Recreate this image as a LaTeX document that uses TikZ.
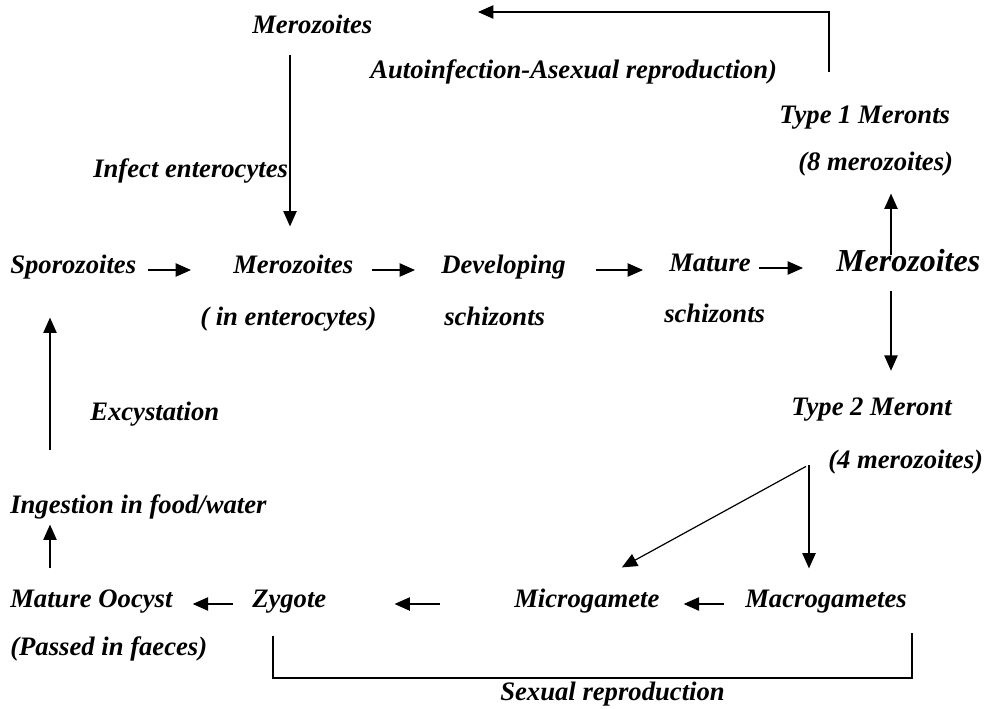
\documentclass[tikz,border=0pt]{standalone}
\usepackage{fontspec}
\setmainfont{Liberation Serif}
\usetikzlibrary{arrows.meta}
\begin{document}
\begin{tikzpicture}[x=0.75pt,y=-0.75pt,
  lbl/.style={anchor=base west,inner sep=0pt,font=\fontsize{20}{24}\selectfont\bfseries\itshape,text height=0.7em,text depth=0.25em},
  biglbl/.style={lbl,font=\fontsize{24}{28}\selectfont\bfseries\itshape},
  arr/.style={line width=0.9pt,-{Triangle[length=11.5pt,width=10pt]}},
  ln/.style={line width=0.9pt}]
\useasboundingbox (0,0) rectangle (996,708);
% labels
\node[lbl] (merTop) at (252,33) {Merozoites};
\node[lbl] (auto) at (370,78) {Autoinfection-Asexual reproduction)};
\node[lbl] (infect) at (93,177) {Infect enterocytes};
\node[lbl] (type1) at (779,123) {Type 1 Meronts};
\node[lbl] (type1b) at (798,170) {(8 merozoites)};
\node[lbl] (spor) at (10,273) {Sporozoites};
\node[lbl] (mer1) at (233,273) {Merozoites};
\node[lbl] (mer1b) at (200,325) {( in enterocytes)};
\node[lbl] (dev) at (441,273) {Developing};
\node[lbl] (devb) at (444,325) {schizonts};
\node[lbl] (mat) at (669,271) {Mature};
\node[lbl] (matb) at (664,322) {schizonts};
\node[biglbl] (merBig) at (836,271) {Merozoites};
\node[lbl] (type2) at (791,415) {Type 2 Meront};
\node[lbl] (type2b) at (828,468) {(4 merozoites)};
\node[lbl] (excyst) at (90,420) {Excystation};
\node[lbl] (ingest) at (10,513) {Ingestion in food/water};
\node[lbl] (oocyst) at (10,607) {Mature Oocyst};
\node[lbl] (oocystb) at (10,655) {(Passed in faeces)};
\node[lbl] (zyg) at (252,607) {Zygote};
\node[lbl] (micro) at (514,607) {Microgamete};
\node[lbl] (macro) at (745,607) {Macrogametes};
\node[lbl] (sexual) at (500,700) {Sexual reproduction};
% column coordinates
\coordinate (colL) at (50,0);
\coordinate (colT) at (290,0);
\coordinate (colR) at (891,0);
\coordinate (colM) at (809,0);
\coordinate (autoA) at (829,72);
\coordinate (autoB) at (478,12);
\coordinate (brL) at (273,678);
\coordinate (brR) at (912,678);
% main row
\draw[arr,shorten <=9pt,shorten >=31.5pt] (spor.east) -- (spor.east -| mer1.west);
\draw[arr,shorten <=13.5pt,shorten >=19.5pt] (mer1.east) -- (mer1.east -| dev.west);
\draw[arr,shorten <=22.5pt,shorten >=19.5pt] (dev.east) -- (dev.east -| mat.west);
\draw[arr,shorten <=6pt,shorten >=24.75pt] (mat.east) -- (mat.east -| merBig.west);
% top loop
\draw[arr,shorten <=13.5pt,shorten >=27.75pt] (merTop.south -| colT) -- (mer1.north -| colT);
\draw[arr] (autoA) |- (autoB);
\draw[arr,shorten <=4.5pt,shorten >=15pt] (merBig.north -| colR) -- (type1b.south -| colR);
\draw[arr,shorten <=12pt,shorten >=26pt] (merBig.south -| colR) -- (type2.north -| colR);
% type 2 branches
\draw[arr] ([shift={(-22,8)}]type2b.north west) -- ([shift={(35,-30)}]micro.north);
\draw[arr,shorten >=21.75pt] (type2b.west -| colM) -- (macro.north -| colM);
\draw[arr,shorten <=15.75pt,shorten >=18pt] (macro.west) -- (macro.west -| micro.east);
\draw[arr,shorten <=55.5pt,shorten >=51pt] (micro.west) -- (micro.west -| zyg.east);
\draw[arr,shorten <=14.25pt,shorten >=15pt] (zyg.west) -- (zyg.west -| oocyst.east);
% left column
\draw[arr,shorten <=21.75pt,shorten >=6pt] (oocyst.north -| colL) -- (ingest.south -| colL);
\draw[arr,shorten <=39.75pt,shorten >=30.75pt] (ingest.north -| colL) -- (spor.south -| colL);
% sexual reproduction bracket
\draw[ln,shorten <=18.75pt,shorten >=16.5pt] (zyg.south -| brL) -- (brL) -- (brR) -- (macro.south -| brR);
\end{tikzpicture}
\end{document}
